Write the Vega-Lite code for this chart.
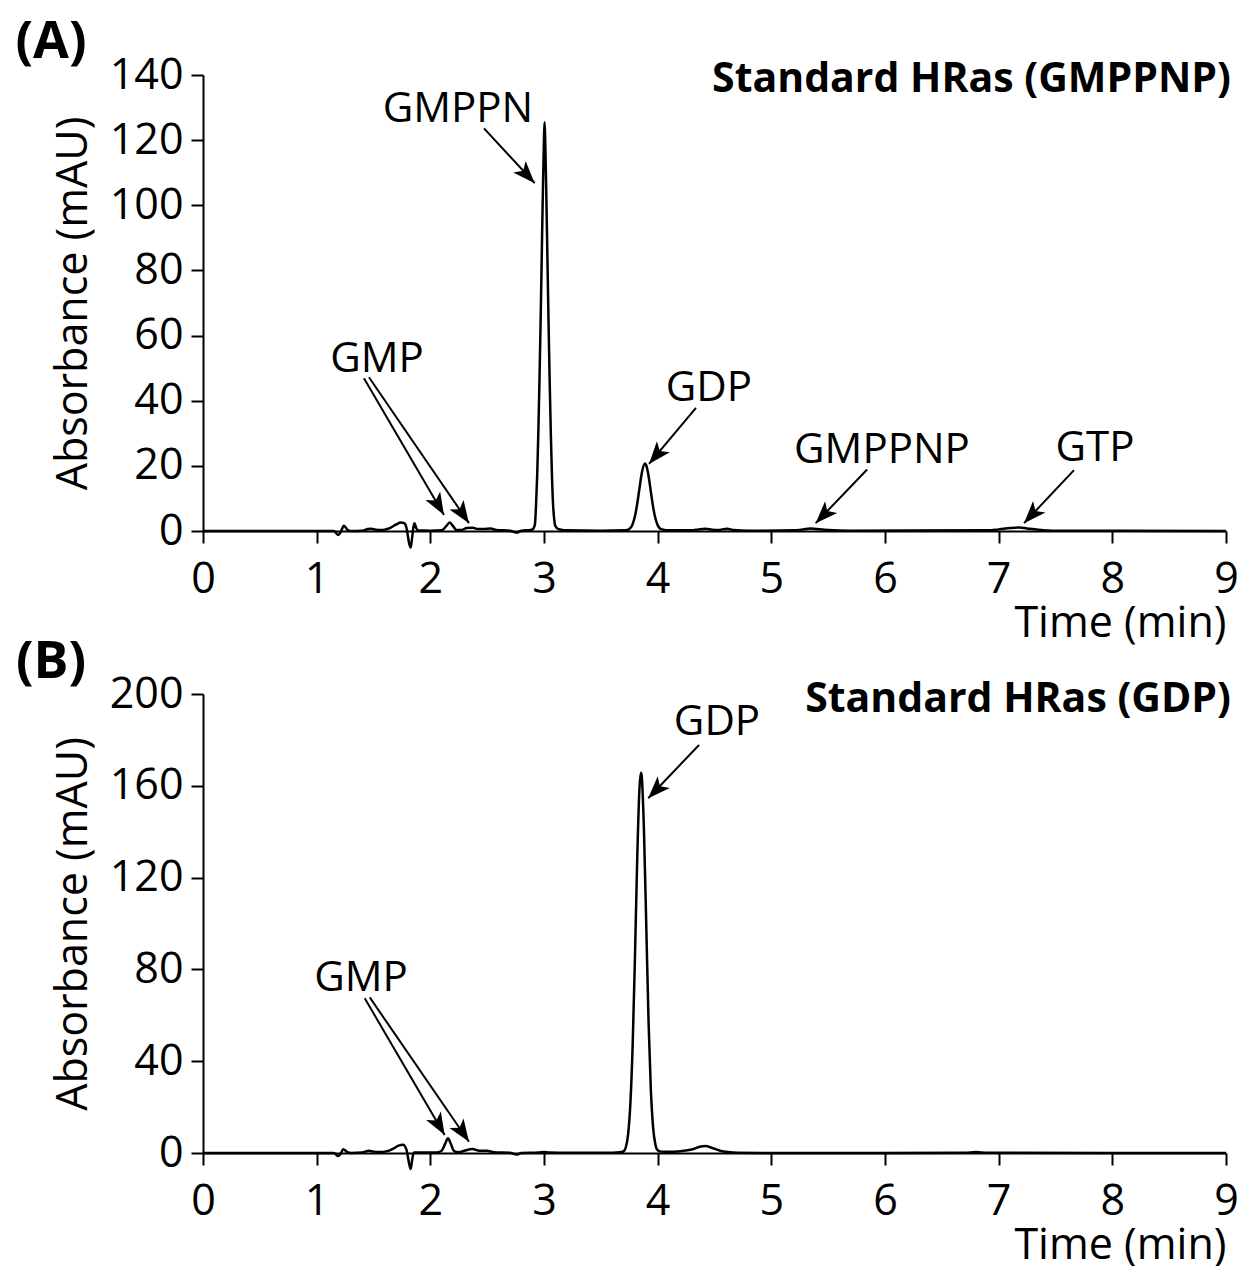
{
  "$schema": "https://vega.github.io/schema/vega-lite/v6.json",
  "autosize": {"type": "pad"},
  "padding": {"left": 15, "top": 16, "right": 0, "bottom": 0},
  "background": "white",
  "spacing": 163,
  "bounds": "flush",
  "config": {
    "view": {"stroke": null},
    "font": "Open Sans",
    "axis": {
      "domainColor": "black", "domainWidth": 2, "tickColor": "black", "tickWidth": 2, "tickSize": 12,
      "labelFont": "Open Sans", "labelFontSize": 43, "labelColor": "black",
      "titleFont": "Open Sans", "titleFontSize": 43, "titleFontWeight": "normal", "titleColor": "black",
      "grid": false
    },
    "axisX": {"labelPadding": 15, "titleAnchor": "end", "titlePadding": 1, "labelFlush": false, "labelOverlap": false},
    "axisY": {"labelPadding": 8, "titlePadding": 14}
  },
  "datasets": {
    "traceA": [
      {"t":0,"a":0},{"t":0.5,"a":0},{"t":1.0,"a":0},{"t":1.15,"a":0},{"t":1.19,"a":-1.2},{"t":1.21,"a":-0.4},{"t":1.24,"a":1.6},{"t":1.27,"a":0.4},{"t":1.3,"a":0},{"t":1.4,"a":0.1},{"t":1.45,"a":0.6},{"t":1.48,"a":0.7},{"t":1.52,"a":0.4},{"t":1.58,"a":0.3},{"t":1.62,"a":0.6},{"t":1.66,"a":1.2},{"t":1.7,"a":2.0},{"t":1.74,"a":2.6},{"t":1.77,"a":2.4},{"t":1.79,"a":1.0},{"t":1.8,"a":-1.0},{"t":1.815,"a":-4.0},{"t":1.827,"a":-5.1},{"t":1.84,"a":-2.0},{"t":1.85,"a":1.0},{"t":1.86,"a":2.4},{"t":1.875,"a":1.0},{"t":1.89,"a":0.2},{"t":2.0,"a":0.1},{"t":2.1,"a":0.2},{"t":2.14,"a":1.5},{"t":2.17,"a":2.6},{"t":2.2,"a":1.5},{"t":2.23,"a":0.3},{"t":2.27,"a":0.3},{"t":2.32,"a":0.9},{"t":2.37,"a":1.0},{"t":2.42,"a":0.6},{"t":2.47,"a":0.6},{"t":2.53,"a":0.8},{"t":2.58,"a":0.3},{"t":2.7,"a":0.1},{"t":2.76,"a":-0.5},{"t":2.8,"a":0.1},{"t":2.88,"a":0.3},{"t":2.9,"a":0.5},{"t":2.92,"a":2},{"t":2.93,"a":8},{"t":2.94,"a":17},{"t":2.95,"a":30},{"t":2.96,"a":46},{"t":2.97,"a":64},{"t":2.98,"a":84},{"t":2.99,"a":104},{"t":3.0,"a":121},{"t":3.005,"a":125.5},{"t":3.01,"a":121},{"t":3.02,"a":104},{"t":3.03,"a":84},{"t":3.04,"a":64},{"t":3.05,"a":46},{"t":3.06,"a":30},{"t":3.07,"a":17},{"t":3.08,"a":8},{"t":3.09,"a":3.5},{"t":3.1,"a":1.5},{"t":3.12,"a":0.7},{"t":3.15,"a":0.4},{"t":3.2,"a":0.2},{"t":3.5,"a":0.1},{"t":3.7,"a":0.2},{"t":3.74,"a":0.4},{"t":3.76,"a":0.9},{"t":3.78,"a":2.1},{"t":3.8,"a":4.5},{"t":3.82,"a":8.3},{"t":3.84,"a":13.1},{"t":3.86,"a":17.7},{"t":3.888,"a":20.7},{"t":3.9,"a":20.1},{"t":3.92,"a":16.9},{"t":3.94,"a":12.1},{"t":3.96,"a":7.4},{"t":3.98,"a":3.9},{"t":4.0,"a":1.8},{"t":4.02,"a":0.8},{"t":4.05,"a":0.4},{"t":4.1,"a":0.2},{"t":4.3,"a":0.2},{"t":4.36,"a":0.5},{"t":4.42,"a":0.7},{"t":4.48,"a":0.4},{"t":4.53,"a":0.3},{"t":4.61,"a":0.7},{"t":4.67,"a":0.3},{"t":4.8,"a":0.1},{"t":5.2,"a":0.2},{"t":5.28,"a":0.5},{"t":5.34,"a":0.8},{"t":5.4,"a":0.6},{"t":5.5,"a":0.3},{"t":5.7,"a":0.1},{"t":6.9,"a":0.2},{"t":7.0,"a":0.5},{"t":7.1,"a":0.9},{"t":7.18,"a":1.1},{"t":7.25,"a":0.8},{"t":7.35,"a":0.4},{"t":7.5,"a":0.1},{"t":9,"a":0}
    ],
    "traceB": [
      {"t":0,"a":0},{"t":1.15,"a":0},{"t":1.19,"a":-1.3},{"t":1.21,"a":-0.4},{"t":1.234,"a":1.6},{"t":1.27,"a":0.4},{"t":1.3,"a":0},{"t":1.4,"a":0.2},{"t":1.46,"a":1.0},{"t":1.5,"a":0.6},{"t":1.56,"a":0.4},{"t":1.62,"a":0.8},{"t":1.67,"a":1.8},{"t":1.72,"a":3.2},{"t":1.76,"a":3.6},{"t":1.79,"a":1.5},{"t":1.8,"a":-1},{"t":1.815,"a":-5},{"t":1.827,"a":-7},{"t":1.84,"a":-3},{"t":1.855,"a":0.2},{"t":1.9,"a":0.2},{"t":2.05,"a":0.2},{"t":2.1,"a":1.0},{"t":2.13,"a":4.0},{"t":2.155,"a":6.4},{"t":2.18,"a":4.0},{"t":2.21,"a":0.8},{"t":2.25,"a":0.3},{"t":2.3,"a":1.0},{"t":2.37,"a":1.7},{"t":2.43,"a":1.0},{"t":2.5,"a":1.0},{"t":2.56,"a":0.3},{"t":2.7,"a":0.1},{"t":2.76,"a":-0.7},{"t":2.8,"a":0},{"t":2.95,"a":0.2},{"t":3.0,"a":0.4},{"t":3.05,"a":0.2},{"t":3.2,"a":0.1},{"t":3.6,"a":0.1},{"t":3.68,"a":0.4},{"t":3.7,"a":0.7},{"t":3.72,"a":2.5},{"t":3.74,"a":8.1},{"t":3.76,"a":21.6},{"t":3.78,"a":47},{"t":3.8,"a":85},{"t":3.82,"a":128},{"t":3.84,"a":159},{"t":3.853,"a":165.7},{"t":3.86,"a":164},{"t":3.88,"a":139.5},{"t":3.9,"a":98.5},{"t":3.92,"a":57},{"t":3.94,"a":27.7},{"t":3.96,"a":11.1},{"t":3.98,"a":3.7},{"t":4.0,"a":1.2},{"t":4.03,"a":0.6},{"t":4.1,"a":0.5},{"t":4.2,"a":0.8},{"t":4.3,"a":1.5},{"t":4.38,"a":2.8},{"t":4.42,"a":3.0},{"t":4.48,"a":2.2},{"t":4.55,"a":1.0},{"t":4.62,"a":0.4},{"t":4.7,"a":0.1},{"t":5.0,"a":0},{"t":6.7,"a":0.1},{"t":6.8,"a":0.4},{"t":6.9,"a":0.1},{"t":9,"a":0}
    ],
    "labelsA": [
      {"label":"GMPPN","t":2.243,"a":129.6},{"label":"GMP","t":1.531,"a":52.8},{"label":"GDP","t":4.451,"a":43.9},{"label":"GMPPNP","t":5.973,"a":24.9},{"label":"GTP","t":7.847,"a":25.5}
    ],
    "arrowsA": [
      {"t1":2.472,"a1":123.6,"t2":2.918,"a2":106.8,"angle":137},
      {"t1":1.416,"a1":46.9,"t2":2.120,"a2":4.9,"angle":150},
      {"t1":1.460,"a1":47.2,"t2":2.340,"a2":2.4,"angle":146},
      {"t1":4.337,"a1":37.8,"t2":3.924,"a2":20.6,"angle":220},
      {"t1":5.843,"a1":18.9,"t2":5.390,"a2":2.4,"angle":224},
      {"t1":7.663,"a1":18.7,"t2":7.223,"a2":2.4,"angle":223}
    ],
    "labelsB": [
      {"label":"GDP","t":4.522,"a":187.8},{"label":"GMP","t":1.390,"a":76.3}
    ],
    "arrowsB": [
      {"t1":4.364,"a1":177.8,"t2":3.917,"a2":154.6,"angle":224},
      {"t1":1.423,"a1":67.4,"t2":2.126,"a2":7.8,"angle":150},
      {"t1":1.467,"a1":67.8,"t2":2.340,"a2":4.9,"angle":146}
    ],
    "titleA": [{"panel": "(A)", "title": "Standard HRas (GMPPNP)"}],
    "titleB": [{"panel": "(B)", "title": "Standard HRas (GDP)"}]
  },
  "vconcat": [
    {
      "width": 1023,
      "height": 456,
      "encoding": {
        "x": {"type": "quantitative", "scale": {"domain": [0, 9], "nice": false}, "axis": {"values": [0,1,2,3,4,5,6,7,8,9], "title": "Time (min)"}},
        "y": {"type": "quantitative", "scale": {"domain": [0, 140], "nice": false}, "axis": {"values": [0,20,40,60,80,100,120,140], "title": "Absorbance (mAU)"}}
      },
      "layer": [
        {
          "data": {"name": "traceA"},
          "mark": {"type": "line", "color": "black", "strokeWidth": 2.5, "interpolate": "monotone"},
          "encoding": {"x": {"field": "t", "type": "quantitative"}, "y": {"field": "a", "type": "quantitative"}}
        },
        {
          "data": {"name": "arrowsA"},
          "mark": {"type": "rule", "color": "black", "strokeWidth": 2},
          "encoding": {"x": {"field": "t1", "type": "quantitative"}, "y": {"field": "a1", "type": "quantitative"}, "x2": {"field": "t2"}, "y2": {"field": "a2"}}
        },
        {
          "data": {"name": "arrowsA"},
          "mark": {"type": "point", "shape": "M0,0L-0.38,1L0,0.75L0.38,1Z", "filled": true, "color": "black", "opacity": 1, "size": 2000, "strokeWidth": 0},
          "encoding": {"x": {"field": "t2", "type": "quantitative"}, "y": {"field": "a2", "type": "quantitative"}, "angle": {"field": "angle", "type": "quantitative", "scale": null}}
        },
        {
          "data": {"name": "labelsA"},
          "mark": {"type": "text", "font": "Open Sans", "fontSize": 42, "color": "black", "align": "center", "baseline": "middle"},
          "encoding": {"x": {"field": "t", "type": "quantitative"}, "y": {"field": "a", "type": "quantitative"}, "text": {"field": "label"}}
        },
        {
          "data": {"name": "titleA"},
          "mark": {"type": "text", "font": "Open Sans", "fontSize": 41, "fontWeight": "bold", "color": "black", "align": "right", "baseline": "middle", "dx": 5},
          "encoding": {"x": {"datum": 9}, "y": {"datum": 138.5}, "text": {"field": "title"}}
        },
        {
          "data": {"name": "titleA"},
          "mark": {"type": "text", "font": "Open Sans", "fontSize": 52, "fontWeight": "bold", "color": "black", "align": "center", "baseline": "middle"},
          "encoding": {"x": {"datum": -1.337}, "y": {"datum": 150.1}, "text": {"field": "panel"}}
        }
      ]
    },
    {
      "width": 1023,
      "height": 459,
      "encoding": {
        "x": {"type": "quantitative", "scale": {"domain": [0, 9], "nice": false}, "axis": {"values": [0,1,2,3,4,5,6,7,8,9], "title": "Time (min)"}},
        "y": {"type": "quantitative", "scale": {"domain": [0, 200], "nice": false}, "axis": {"values": [0,40,80,120,160,200], "title": "Absorbance (mAU)"}}
      },
      "layer": [
        {
          "data": {"name": "traceB"},
          "mark": {"type": "line", "color": "black", "strokeWidth": 2.5, "interpolate": "monotone"},
          "encoding": {"x": {"field": "t", "type": "quantitative"}, "y": {"field": "a", "type": "quantitative"}}
        },
        {
          "data": {"name": "arrowsB"},
          "mark": {"type": "rule", "color": "black", "strokeWidth": 2},
          "encoding": {"x": {"field": "t1", "type": "quantitative"}, "y": {"field": "a1", "type": "quantitative"}, "x2": {"field": "t2"}, "y2": {"field": "a2"}}
        },
        {
          "data": {"name": "arrowsB"},
          "mark": {"type": "point", "shape": "M0,0L-0.38,1L0,0.75L0.38,1Z", "filled": true, "color": "black", "opacity": 1, "size": 2000, "strokeWidth": 0},
          "encoding": {"x": {"field": "t2", "type": "quantitative"}, "y": {"field": "a2", "type": "quantitative"}, "angle": {"field": "angle", "type": "quantitative", "scale": null}}
        },
        {
          "data": {"name": "labelsB"},
          "mark": {"type": "text", "font": "Open Sans", "fontSize": 42, "color": "black", "align": "center", "baseline": "middle"},
          "encoding": {"x": {"field": "t", "type": "quantitative"}, "y": {"field": "a", "type": "quantitative"}, "text": {"field": "label"}}
        },
        {
          "data": {"name": "titleB"},
          "mark": {"type": "text", "font": "Open Sans", "fontSize": 41, "fontWeight": "bold", "color": "black", "align": "right", "baseline": "middle", "dx": 5},
          "encoding": {"x": {"datum": 9}, "y": {"datum": 197.4}, "text": {"field": "title"}}
        },
        {
          "data": {"name": "titleB"},
          "mark": {"type": "text", "font": "Open Sans", "fontSize": 52, "fontWeight": "bold", "color": "black", "align": "center", "baseline": "middle"},
          "encoding": {"x": {"datum": -1.337}, "y": {"datum": 213.9}, "text": {"field": "panel"}}
        }
      ]
    }
  ]
}
